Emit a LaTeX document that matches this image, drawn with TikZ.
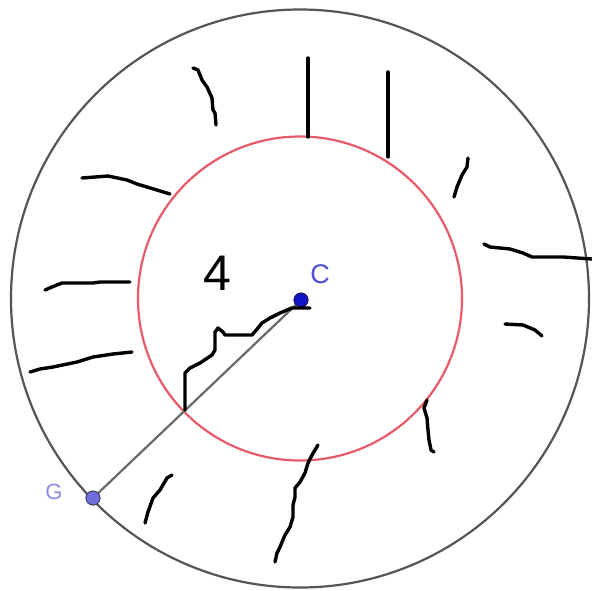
\documentclass[tikz,border=0pt]{standalone}
\usepackage{fontspec}
\setmainfont{Liberation Sans}
\begin{document}
\begin{tikzpicture}[x=1pt,y=-1pt,
  ink/.style={line width=3.4pt,line cap=round,line join=round,black},
  ptC/.style={circle,fill={rgb,255:red,20;green,20;blue,200},draw={rgb,255:red,20;green,20;blue,90},line width=0.8pt,inner sep=0pt,minimum size=14pt},
  ptG/.style={circle,fill={rgb,255:red,110;green,110;blue,220},draw={rgb,255:red,60;green,60;blue,90},line width=0.8pt,inner sep=0pt,minimum size=14pt}]
\useasboundingbox (0,0) rectangle (592,590);
\fill[white] (0,0) rectangle (592,590);
\coordinate (O) at (300,298.5);
\draw[line width=2.2pt,color={rgb,255:red,85;green,85;blue,85}] (O) circle[radius=289];
\draw[line width=2.2pt,color={rgb,255:red,232;green,90;blue,105}] (O) circle[radius=162];
\node[ptG] (G) at (93,498) {};
\node[ptC] (C) at (301,300) {};
\draw[line width=2.2pt,color={rgb,255:red,105;green,105;blue,105}] (G.center) -- (C.center);
\node[ptG] at (G) {};
\node[ptC] at (C) {};
\node[font=\fontsize{27}{27}\selectfont,text={rgb,255:red,80;green,80;blue,210}] (Clab) at (320,274) {C};
\node[font=\fontsize{22}{22}\selectfont,text={rgb,255:red,140;green,140;blue,230}] (Glab) at (54,492) {G};
\node[font=\fontsize{50}{50}\selectfont] (four) at (217,273) {4};
% scribbles
\draw[ink] (185,410) -- (185,373) -- (190,368) -- (200,363) -- (212,355) -- (215,350) -- (215,332) -- (218,328) -- (223,332) -- (225,335) -- (252,335) -- (258,328) -- (262,323) -- (270,318) -- (280,313) -- (287,310) -- (292,308) -- (310,308);
\draw[ink] (193,68) -- (198,70) -- (202,80) -- (207,87) -- (212,98) -- (213,110) -- (215,113) -- (216,125);
\draw[ink] (308,58) -- (308,137);
\draw[ink] (388,72) -- (388,157);
\draw[ink] (82,178) -- (108,176) -- (127,180) -- (137,184) -- (147,187) -- (170,194);
\draw[ink] (45,290) -- (52,287) -- (62,283) -- (93,283) -- (100,282) -- (130,282);
\draw[ink] (30,372) -- (40,369) -- (53,367) -- (77,362) -- (93,357) -- (113,354) -- (132,352);
\draw[ink] (468,158) -- (467,167) -- (462,175) -- (457,187) -- (454,197);
\draw[ink] (484,244) -- (490,247) -- (510,249) -- (523,253) -- (532,257) -- (563,257) -- (592,259);
\draw[ink] (505,324) -- (523,325) -- (535,330) -- (542,336);
\draw[ink] (172,475) -- (167,478) -- (160,490) -- (153,498) -- (148,512) -- (145,523);
\draw[ink] (318,445) -- (312,455) -- (308,463) -- (305,473) -- (300,482) -- (295,488) -- (295,497) -- (293,505) -- (293,517) -- (290,527) -- (285,535) -- (280,547) -- (277,553) -- (275,562);
\draw[ink] (427,400) -- (424,408) -- (427,418) -- (428,430) -- (429,440) -- (431,450) -- (434,452);
\end{tikzpicture}
\end{document}
